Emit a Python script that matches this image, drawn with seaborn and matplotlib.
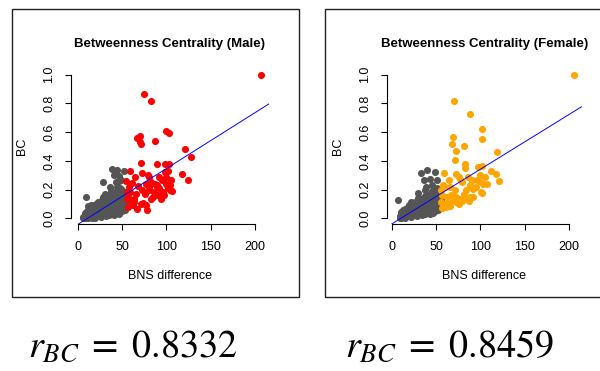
import pandas as pd
import seaborn as sns
import matplotlib.pyplot as plt
from matplotlib.patches import Rectangle

# (BNS difference, BC) pairs
male_grey = [
    (6, 0.0), (6, 0.012), (8, 0.0), (8, 0.02), (8, 0.035), (9, 0.145), (10, 0.005), (10, 0.03), (10, 0.05),
    (12, 0.0), (12, 0.025), (12, 0.05), (12, 0.084), (14, 0.01), (14, 0.04), (14, 0.065), (15, 0.09),
    (16, 0.0), (16, 0.03), (17, 0.055), (18, 0.015), (18, 0.045), (19, 0.07), (18, 0.09),
    (20, 0.005), (20, 0.035), (21, 0.06), (21, 0.1), (23, 0.02), (23, 0.05), (24, 0.08), (23, 0.11),
    (26, 0.01), (26, 0.04), (26, 0.07), (27, 0.1), (27, 0.13),
    (29, 0.02), (29, 0.05), (29, 0.08), (30, 0.11), (28, 0.15), (29, 0.254),
    (32, 0.015), (32, 0.045), (32, 0.075), (32, 0.105), (33, 0.14), (31, 0.17),
    (35, 0.025), (35, 0.055), (35, 0.085), (36, 0.12), (35, 0.16), (39, 0.34), (36, 0.22), (37, 0.19),
    (38, 0.03), (38, 0.06), (38, 0.09), (38, 0.12), (39, 0.15), (39, 0.18), (41, 0.3),
    (41, 0.02), (41, 0.05), (41, 0.08), (41, 0.11), (42, 0.14), (42, 0.17), (44, 0.335), (43, 0.25), (44, 0.22),
    (44, 0.04), (44, 0.07), (44, 0.1), (44, 0.13), (45, 0.16), (44, 0.19), (47, 0.295), (46, 0.26),
    (47, 0.03), (47, 0.06), (47, 0.09), (47, 0.12), (48, 0.15), (47, 0.18), (48, 0.21),
    (50, 0.05), (50, 0.08), (50, 0.11), (50, 0.14), (51, 0.17), (50, 0.2), (49, 0.265), (52, 0.33),
    (53, 0.06), (53, 0.09), (53, 0.12), (53, 0.15), (52, 0.18), (55, 0.09), (55, 0.12), (55, 0.15),
]
male_red = [
    (207, 1.0), (75, 0.867), (83, 0.818), (100, 0.611), (103, 0.595), (67, 0.56), (70, 0.57), (70, 0.53),
    (71, 0.515), (87, 0.536), (121, 0.48), (128, 0.43), (71, 0.385), (89, 0.38), (99, 0.38), (103, 0.38),
    (118, 0.305), (124, 0.27), (59, 0.331), (73, 0.313), (81, 0.289), (65, 0.289), (55, 0.261), (61, 0.243),
    (83, 0.25), (89, 0.231), (95, 0.268), (100, 0.29), (102, 0.33), (105, 0.268), (104, 0.231), (98, 0.324),
    (92, 0.289), (79, 0.3), (77, 0.242), (68, 0.224), (59, 0.184), (57, 0.149), (61, 0.114), (74, 0.103),
    (77, 0.091), (66, 0.172), (81, 0.196), (85, 0.149), (91, 0.161), (96, 0.184), (104, 0.196), (94, 0.137),
    (83, 0.137), (89, 0.219), (100, 0.242), (106, 0.19), (87, 0.242), (81, 0.219), (76, 0.172), (72, 0.196),
    (64, 0.137), (56, 0.184), (56, 0.131), (63, 0.114), (67, 0.068), (78, 0.056), (57, 0.08), (58, 0.22),
    (62, 0.09), (71, 0.1), (92, 0.21), (97, 0.16), (86, 0.18), (102, 0.21),
]
female_grey = [
    (9, 0.0), (9, 0.015), (7, 0.126), (10, 0.03), (11, 0.0), (11, 0.045), (13, 0.01), (13, 0.03), (13, 0.055),
    (15, 0.0), (15, 0.068), (15, 0.04), (17, 0.015), (17, 0.05), (18, 0.08), (19, 0.03), (20, 0.06), (20, 0.095),
    (22, 0.01), (22, 0.04), (22, 0.114), (23, 0.075), (25, 0.02), (25, 0.05), (25, 0.085), (26, 0.11),
    (28, 0.015), (28, 0.045), (28, 0.075), (29, 0.105), (30, 0.138), (30, 0.173),
    (31, 0.03), (31, 0.06), (31, 0.09), (32, 0.12), (33, 0.312), (34, 0.02), (34, 0.05), (34, 0.08), (34, 0.11),
    (35, 0.14), (36, 0.266), (37, 0.2), (37, 0.03), (37, 0.06), (37, 0.09), (38, 0.12), (38, 0.155), (39, 0.219),
    (40, 0.336), (40, 0.04), (40, 0.07), (40, 0.1), (41, 0.13), (41, 0.161),
    (43, 0.277), (43, 0.03), (43, 0.06), (43, 0.09), (43, 0.12), (44, 0.15), (45, 0.231), (45, 0.19),
    (46, 0.04), (46, 0.07), (46, 0.1), (46, 0.13), (47, 0.165), (49, 0.32), (49, 0.05), (49, 0.08), (49, 0.11),
    (49, 0.14), (50, 0.175), (51, 0.266), (51, 0.21),
    (52, 0.06), (52, 0.09), (52, 0.12), (52, 0.15), (53, 0.184), (55, 0.07), (55, 0.1), (55, 0.13), (55, 0.16),
]
female_orange = [
    (205, 1.0), (70.5, 0.818), (88, 0.727), (102, 0.62), (102, 0.55), (69, 0.569), (68, 0.517), (82, 0.506),
    (72, 0.471), (119, 0.464), (71, 0.405), (83, 0.377), (83, 0.347), (97, 0.354), (102, 0.363), (112, 0.329),
    (118, 0.305), (121, 0.258), (59, 0.312), (73, 0.308), (64, 0.27), (76, 0.29), (79, 0.254), (91, 0.266),
    (96, 0.266), (99, 0.3), (105, 0.289), (103, 0.242), (107, 0.242), (86, 0.289), (77, 0.277), (101, 0.184),
    (102, 0.177), (67, 0.161), (69, 0.126), (77, 0.137), (76, 0.098), (88, 0.149), (81, 0.172), (62, 0.149),
    (56, 0.196), (55, 0.114), (60, 0.219), (84, 0.196), (92, 0.207), (71, 0.196), (66, 0.219), (73, 0.149),
    (82, 0.137), (72, 0.114), (66, 0.084), (62, 0.103), (57, 0.07), (57, 0.16), (58, 0.23), (95, 0.22),
    (88, 0.23), (61, 0.08), (79, 0.12), (87, 0.12), (92, 0.15), (98, 0.26),
]

# fitted lines (intercept, slope) and correlations
male_fit = (-0.043, 0.00389)
female_fit = (-0.040, 0.00382)
r_values = ["0.8332", "0.8459"]

titles = ["Betweenness Centrality (Male)", "Betweenness Centrality (Female)"]
x_ticks = [0, 50, 100, 150, 200]
y_ticks = [0.0, 0.2, 0.4, 0.6, 0.8, 1.0]

sns.set_style("white")
plt.rcParams["font.family"] = ["Liberation Sans", "DejaVu Sans"]
plt.rcParams["mathtext.fontset"] = "stix"
for key in ["text.color", "axes.labelcolor", "xtick.color", "ytick.color"]:
    plt.rcParams[key] = "black"

W, H = 600, 371
fig = plt.figure(figsize=(6, 3.71), dpi=100)


def add_axes_px(left, right, top, bottom):
    return fig.add_axes([left / W, 1 - bottom / H, (right - left) / W, (bottom - top) / H])


def draw_panel(ax, grey, hi, hi_color, fit, title, xlim):
    g = pd.DataFrame(grey, columns=["bns", "bc"])
    h = pd.DataFrame(hi, columns=["bns", "bc"])
    sns.scatterplot(data=g, x="bns", y="bc", color="#555555", s=26, linewidth=0, ax=ax)
    sns.scatterplot(data=h, x="bns", y="bc", color=hi_color, s=26, linewidth=0, ax=ax)
    ax.axline((0, fit[0]), slope=fit[1], color="blue", lw=0.7)
    ax.set_xlim(*xlim)
    ax.set_ylim(-0.04, 1.04)
    ax.set_facecolor("none")
    for side in ["top", "right"]:
        ax.spines[side].set_visible(False)
    for side in ["left", "bottom"]:
        ax.spines[side].set_color("black")
        ax.spines[side].set_linewidth(0.8)
    ax.spines["left"].set_bounds(0, 1)
    ax.spines["bottom"].set_bounds(0, 200)
    ax.set_xticks(x_ticks)
    ax.set_yticks(y_ticks)
    ax.set_yticklabels([f"{v:.1f}" for v in y_ticks], rotation=90, va="center")
    ax.tick_params(axis="x", direction="out", length=4.3, width=0.8, pad=8, labelsize=9, bottom=True)
    ax.tick_params(axis="y", direction="out", length=4.3, width=0.8, pad=7, labelsize=9, left=True)
    ax.set_title(title, fontsize=9.5, fontweight="bold", pad=16)
    ax.set_xlabel("BNS difference", fontsize=9, labelpad=12)
    ax.set_ylabel("BC", fontsize=9, labelpad=11)


ax1 = add_axes_px(70.7, 269, 69, 224)
draw_panel(ax1, male_grey, male_red, "red", male_fit, titles[0], (-8, 216))
ax2 = add_axes_px(386.7, 581.7, 69, 224)
draw_panel(ax2, female_grey, female_orange, "orange", female_fit, titles[1], (-5.6, 214))

# frames around the two plots
fig.add_artist(Rectangle((12 / W, 1 - 297 / H), 287 / W, 288 / H, transform=fig.transFigure,
                         fill=False, lw=1, ec="#222222"))
fig.add_artist(Rectangle((325 / W, 1 - 297 / H), 285 / W, 288 / H, transform=fig.transFigure,
                         fill=False, lw=1, ec="#222222"))

for x0, r in zip([28, 345], r_values):
    fig.text(x0 / W, 1 - 357 / H, r"$r_{BC}\;=\;" + r + "$", fontsize=27.5,
             ha="left", va="baseline")

fig.savefig("out.png", dpi=100)
